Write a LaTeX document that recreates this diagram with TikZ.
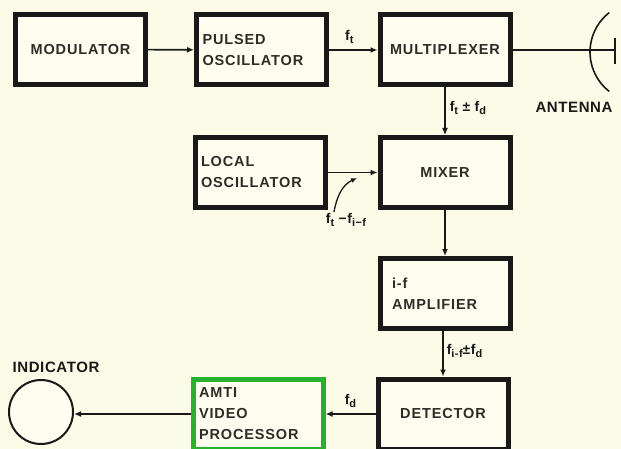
\documentclass[tikz,border=0pt]{standalone}
\usepackage{fontspec}
\setmainfont{Liberation Sans}
\newfontfamily\lab[LetterSpace=6]{Liberation Sans Bold}
\newfontfamily\flb[LetterSpace=4]{Liberation Sans Bold}
\usetikzlibrary{arrows.meta}
\definecolor{bg}{RGB}{251,251,232}
\definecolor{boxbg}{RGB}{253,253,240}
\definecolor{grn}{RGB}{38,178,44}
\definecolor{ink}{RGB}{25,25,25}
\definecolor{txt}{RGB}{45,45,40}
\newcommand{\sbs}[1]{\raisebox{-3pt}{\fontsize{11}{12}\selectfont #1}}
\begin{document}
\begin{tikzpicture}[x=1pt,y=-1pt,
  box/.style={draw=ink,line width=5pt,fill=boxbg,minimum height=70pt,
    inner xsep=6pt,text width=118pt,font=\lab\fontsize{14.5}{21}\selectfont,text=txt},
  cbox/.style={box,align=center},
  lbox/.style={box,align=left},
  conn/.style={draw=ink,line width=1.6pt},
  arr/.style={conn,-{Latex[length=7pt,width=6pt]}},
  flab/.style={font=\flb\fontsize{14}{16}\selectfont,text=ink,inner sep=1pt},
  plainlab/.style={font=\flb\fontsize{15}{16}\selectfont,text=ink,inner sep=1pt}
]
\fill[bg] (0,0) rectangle (621,449);
\useasboundingbox (0,0) rectangle (621,449);

\node[cbox] (mod) at (80.5,49.5) {MODULATOR};
\node[lbox] (pulse) at (261.5,50) {PULSED\\OSCILLATOR};
\node[cbox] (mux) at (445,50) {MULTIPLEXER};
\node[lbox] (lo) at (260,172.5) {LOCAL\\OSCILLATOR};
\node[cbox] (mix) at (445,172.5) {MIXER};
\node[lbox,text width=106pt,inner xsep=12pt] (ifa) at (445,293.5) {i-f\\AMPLIFIER};
\node[cbox] (det) at (443,414) {DETECTOR};
\node[lbox,draw=grn] (amti) at (258,414) {AMTI\\VIDEO\\PROCESSOR};
\node[draw=ink,circle,line width=2pt,minimum size=64pt,fill=boxbg] (ind) at (41,412) {};

\node[plainlab] (indl) at (56,367) {INDICATOR};
\node[plainlab] (antl) at (574,107) {ANTENNA};

% antenna
\coordinate (feed) at (615,50);
\draw[conn] (640,52) ++(128:50) arc[start angle=128,end angle=232,radius=50];
\draw[draw=ink,line width=2.2pt] (615,38) -- (615,64);

% connectors
\draw[arr] (mod) -- (pulse);
\draw[arr] (pulse) -- node[flab,above=5pt,xshift=-4pt] (ft) {f\sbs{t}} (mux);
\draw[conn] (mux) -- (feed);
\draw[arr] (mux) -- node[flab,right=3pt,yshift=3pt] (ftfd) {f\sbs{t} ± f\sbs{d}} (mix);
\draw[arr] (lo) -- (mix);
\draw[arr] (mix) -- (ifa);
\draw[arr] (ifa.south -| det.north) -- node[flab,right=2pt,yshift=3pt] (fif) {f\sbs{i-f}±f\sbs{d}} (det);
\draw[arr] (det) -- node[flab,above=5pt] (fd) {f\sbs{d}} (amti);
\draw[arr] (amti) -- (amti.west -| ind.east);

\node[flab] (lof) at (346,220) {f\sbs{t} −f\sbs{i−f}};
\coordinate (lostart) at (334,212);
\coordinate (lotip) at (357,178);
\draw[draw=ink,line width=1.3pt,-{Latex[length=6pt,width=5pt]}] (lostart) to[out=80,in=205] (lotip);
\end{tikzpicture}
\end{document}
